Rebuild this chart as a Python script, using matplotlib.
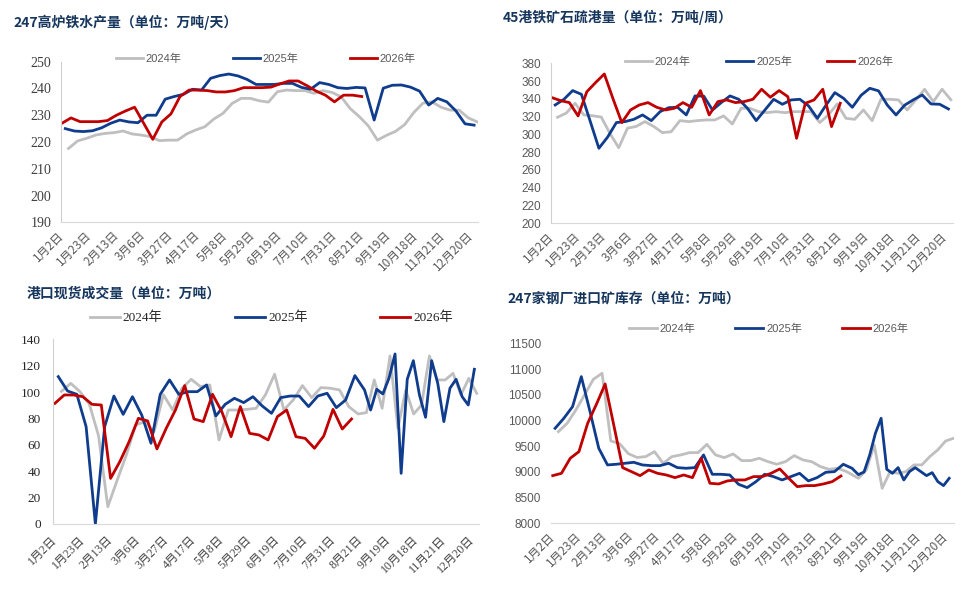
import numpy as np
import matplotlib
matplotlib.use("Agg")
import matplotlib.pyplot as plt
from matplotlib.ticker import FixedLocator, FixedFormatter

SANS = ["Liberation Sans", "Noto Sans CJK SC"]
SERIF = ["Liberation Serif", "Noto Sans CJK SC"]
CJK = ["Noto Sans CJK SC", "DejaVu Sans"]

GRAY, BLUE, RED = "#BFBFBF", "#0F3C8C", "#C00000"
TITLE_COLOR = "#17365D"

date_labels = ["1月2日", "1月23日", "2月13日", "3月6日", "3月27日", "4月17日",
               "5月8日", "5月29日", "6月19日", "7月10日", "7月31日", "8月21日",
               "9月19日", "10月18日", "11月21日", "12月20日"]
years = ["2024年", "2025年", "2026年"]

# 247高炉铁水产量 (万吨/天)
hm_2024 = [217.6, 220.4, 221.4, 222.6, 223.2, 223.5, 224.1, 223.0, 222.6, 222.0,
           220.5, 220.7, 220.7, 223.0, 224.5, 225.7, 228.6, 230.7, 234.4, 236.3,
           236.3, 235.4, 234.9, 238.8, 239.4, 239.2, 239.2, 238.2, 239.2, 238.5,
           236.9, 232.5, 229.5, 226.0, 220.7, 222.5, 224.0, 226.5, 231.0, 234.5,
           235.0, 233.0, 231.9, 231.9, 229.0, 227.5]
hm_2025 = [225.0, 224.1, 223.9, 224.2, 225.3, 227.0, 228.2, 227.5, 227.2, 230.0,
           230.0, 236.0, 237.0, 237.8, 239.7, 239.4, 243.8, 244.8, 245.4, 244.7,
           243.4, 241.5, 241.5, 241.5, 241.9, 241.9, 240.4, 239.7, 242.2, 241.5,
           240.3, 240.0, 240.4, 240.2, 228.2, 240.1, 241.2, 241.3, 240.5, 239.0,
           233.8, 236.3, 235.0, 231.6, 226.8, 226.3]
hm_2026 = [227.0, 229.0, 227.6, 227.6, 227.6, 228.0, 230.0, 231.6, 233.0, 227.0,
           221.0, 227.5, 230.5, 237.0, 239.4, 239.4, 239.2, 238.7, 238.7, 239.2,
           240.3, 240.3, 240.3, 240.5, 241.7, 242.8, 242.8, 241.0, 239.0, 237.5,
           235.0, 237.5, 237.5, 237.0]

# 45港铁矿石疏港量 (万吨/周)
port_2024 = [319.3, 324.0, 335.0, 322.0, 321.0, 319.5, 301.0, 285.0, 307.0, 309.0,
             314.4, 309.0, 302.0, 303.0, 315.5, 314.4, 315.5, 316.3, 316.3, 320.8,
             311.8, 329.4, 329.4, 325.6, 324.5, 325.6, 324.5, 325.6, 325.6, 325.6,
             313.3, 322.0, 334.3, 318.1, 317.0, 327.5, 315.5, 339.5, 339.5, 338.8,
             327.5, 338.8, 350.8, 336.9, 350.8, 339.0]
port_2025 = [333.1, 339.5, 349.3, 345.1, 315.0, 284.4, 297.0, 313.3, 314.4, 317.0,
             321.9, 315.5, 325.6, 330.1, 330.5, 321.9, 343.3, 343.0, 327.5, 335.8,
             343.3, 339.5, 329.4, 315.5, 327.5, 339.5, 333.9, 338.8, 339.5, 332.0,
             318.1, 333.1, 347.0, 340.6, 330.5, 344.0, 351.9, 349.0, 333.0, 321.9,
             333.0, 339.0, 344.4, 334.3, 333.9, 328.6]
port_2026 = [341.4, 338.0, 335.8, 320.8, 348.0, 358.3, 368.0, 340.0, 313.3, 327.5,
             333.1, 335.8, 330.5, 327.5, 329.4, 335.8, 330.5, 349.3, 321.9, 336.9,
             338.8, 335.8, 336.9, 339.5, 350.8, 341.8, 349.3, 342.5, 295.6, 335.0,
             338.8, 350.8, 308.8, 335.0]

# 港口现货成交量 (万吨); 2024/2025 are sampled more densely late in the year
trade_2024 = [100.5, 106.6, 100.3, 91.0, 67.0, 13.1, 33.0, 52.3, 75.0, 77.6,
              70.0, 98.0, 86.4, 102.9, 109.7, 104.1, 105.4, 63.7, 86.4, 86.4,
              86.9, 87.7, 97.8, 113.5, 86.4, 94.0, 104.9, 95.8, 103.4, 102.9,
              101.6, 89.0, 83.4,
              84.4, 109.2, 87.7, 127.4, 72.5, 101.6, 83.4, 90.2, 127.4, 109.2,
              109.2, 114.2, 97.8, 110.4, 99.1]
trade_2025 = [111.7, 100.8, 98.3, 73.8, 0.0, 73.8, 97.0, 83.1, 96.5, 82.6,
              61.2, 98.3, 109.2, 98.3, 100.3, 100.3, 105.4, 81.9, 90.7, 95.3,
              92.0, 96.5, 89.5, 83.9, 95.8, 97.0, 97.0, 89.0, 97.0, 99.1,
              88.2, 94.0, 112.5,
              101.6, 86.4, 102.1, 98.6, 110.4, 128.9, 38.4, 109.7, 123.8, 97.8,
              80.9, 123.8, 106.6, 77.6, 102.9, 109.7, 96.5, 90.2, 117.3]
trade_2026 = [91.5, 97.8, 97.8, 96.5, 90.7, 90.2, 34.6, 47.3, 62.4, 80.1,
              78.1, 56.9, 72.5, 86.4, 104.9, 79.6, 77.6, 98.3, 85.2, 66.2,
              89.0, 68.7, 67.5, 63.7, 81.4, 86.4, 66.2, 64.9, 57.4, 66.7,
              86.9, 72.0, 79.6]

# 247家钢厂进口矿库存 (万吨)
inv_2024 = [9783, 9945, 10204, 10500, 10800, 10917, 9600, 9550, 9355, 9280,
            9297, 9394, 9167, 9297, 9329, 9374, 9374, 9536, 9329, 9277,
            9348, 9219, 9219, 9264, 9199, 9148, 9199, 9316, 9232, 9199,
            9102, 9050, 9070, 9005,
            8875, 9037, 9524, 8681, 9005, 8972, 9005, 9135, 9135, 9297,
            9426, 9601, 9653]
inv_2025 = [9847, 10042, 10269, 10852, 10171, 9459, 9135, 9148, 9167, 9186,
            9135, 9121, 9121, 9167, 9083, 9070, 9083, 9329, 8953, 8953,
            8940, 8759, 8694, 8810, 8953, 8908, 8843, 8908, 8972, 8824,
            8888, 8992, 9005, 9148, 9070,
            8946, 8998, 9329, 9750, 10042, 9050, 8972, 9083, 8843, 9005,
            9083, 9005, 8927, 8985, 8810, 8733, 8875]
inv_2026 = [8927, 8972, 9264, 9394, 9945, 10314, 10709, 9900, 9083, 9005,
            8927, 9037, 8972, 8940, 8888, 8940, 8888, 9264, 8778, 8765,
            8824, 8843, 8843, 8908, 8908, 8972, 9057, 8880, 8713, 8733,
            8733, 8765, 8810, 8920]


def week_x(values, offset, n_regular=None, dense_span=None):
    # categories are 2026 weeks; other years sit a few days later
    if n_regular is None:
        return np.arange(len(values)) + offset
    return np.concatenate([np.arange(n_regular) + offset,
                           np.linspace(dense_span[0], dense_span[1], len(values) - n_regular)])


def draw_panel(fig, rect, title, title_xy, lines, ylim, yticks, xlim, style):
    ax = fig.add_axes(rect)
    handles = []
    for x, y, color in lines:
        h, = ax.plot(x, y, color=color, lw=2.0, solid_joinstyle="round")
        handles.append(h)
    ax.set_xlim(*xlim)
    ax.set_ylim(*ylim)
    ax.set_yticks(yticks)
    ax.xaxis.set_major_locator(FixedLocator(np.arange(0, 46, 3)))
    ax.xaxis.set_major_formatter(FixedFormatter(date_labels))

    for s in ["top", "right"]:
        ax.spines[s].set_visible(False)
    ax.spines["bottom"].set_color("#D9D9D9")
    ax.spines["left"].set_color("#D0D0D0")
    ax.spines["left"].set_visible(style["left_spine"])
    ax.tick_params(length=0)
    ax.tick_params(axis="y", pad=style["ypad"])
    ax.tick_params(axis="x", pad=style["xpad"])
    for lab in ax.get_yticklabels():
        lab.set_family(style["yfont"])
        lab.set_fontsize(style["ysize"])
        lab.set_color(style["tick_color"])
    for lab in ax.get_xticklabels():
        lab.set_family(style["xfont"])
        lab.set_fontsize(style["xsize"])
        lab.set_color(style["xcolor"])
        lab.set_rotation(45)
        lab.set_ha("right")
        lab.set_va("center")
        lab.set_rotation_mode("anchor")

    fig.text(title_xy[0] / 975, 1 - title_xy[1] / 594, title, family=CJK,
             fontsize=10, fontweight="heavy", color=TITLE_COLOR, va="center", ha="left")

    lx, ly = style["legend_xy"]
    leg = ax.legend(handles, years, ncol=3, frameon=False, loc="center left",
                    bbox_to_anchor=(lx / 975, 1 - ly / 594), bbox_transform=fig.transFigure,
                    borderpad=0, borderaxespad=0, handlelength=style["hl"],
                    handletextpad=0.25, columnspacing=style["cs"],
                    prop={"family": style["lfont"], "size": style["lsize"]})
    for t in leg.get_texts():
        t.set_color(style["legend_color"])
    return ax


fig = plt.figure(figsize=(9.75, 5.94), dpi=100)
fig.patch.set_facecolor("white")

style1 = dict(left_spine=True, ypad=7, xpad=8, yfont=SERIF, ysize=10, xfont=CJK, xsize=8.5,
              tick_color="#404040", xcolor="#595959", legend_xy=(116, 59), hl=2.43, cs=4.6,
              lfont=SANS, lsize=8, legend_color="#595959")
draw_panel(fig, [61 / 975, 1 - 222.3 / 594, 417 / 975, 160.6 / 594],
           "247高炉铁水产量（单位：万吨/天）", (13, 22.7),
           [(week_x(hm_2024, 0.73), hm_2024, GRAY),
            (week_x(hm_2025, 0.37), hm_2025, BLUE),
            (week_x(hm_2026, 0.0), hm_2026, RED)],
           (190, 250), np.arange(190, 251, 10), (-0.1, 45.8), style1)

style2 = dict(left_spine=True, ypad=7, xpad=8, yfont=SANS, ysize=8.5, xfont=CJK, xsize=8.5,
              tick_color="#595959", xcolor="#595959", legend_xy=(625, 62), hl=2.43, cs=3.2,
              lfont=SANS, lsize=8, legend_color="#595959")
draw_panel(fig, [551 / 975, 1 - 223.3 / 594, 402 / 975, 160 / 594],
           "45港铁矿石疏港量（单位：万吨/周）", (503, 17),
           [(week_x(port_2024, 0.65), port_2024, GRAY),
            (week_x(port_2025, 0.38), port_2025, BLUE),
            (week_x(port_2026, 0.0), port_2026, RED)],
           (200, 380), np.arange(200, 381, 20), (-0.1, 45.9), style2)

style3 = dict(left_spine=True, ypad=9, xpad=10, yfont=SERIF, ysize=9.5, xfont=SERIF, xsize=8.5,
              tick_color="#262626", xcolor="#404040", legend_xy=(90, 318), hl=2.24, cs=5.5,
              lfont=SERIF, lsize=9.5, legend_color="#262626")
draw_panel(fig, [53.3 / 975, 1 - 524 / 594, 425.7 / 975, 184.7 / 594],
           "港口现货成交量（单位：万吨）", (27, 294),
           [(week_x(trade_2024, 0.7, 33, (33.6, 45.5)), trade_2024, GRAY),
            (week_x(trade_2025, 0.36, 33, (33.4, 45.25)), trade_2025, BLUE),
            (week_x(trade_2026, 0.0), trade_2026, RED)],
           (0, 140), np.arange(0, 141, 20), (-0.18, 45.75), style3)

style4 = dict(left_spine=False, ypad=7, xpad=8, yfont=SANS, ysize=8.5, xfont=CJK, xsize=8.5,
              tick_color="#595959", xcolor="#595959", legend_xy=(629, 329), hl=2.5, cs=3.6,
              lfont=SANS, lsize=8, legend_color="#595959")
draw_panel(fig, [551 / 975, 1 - 523.3 / 594, 403 / 975, 180 / 594],
           "247家钢厂进口矿库存（单位：万吨）", (507, 299),
           [(week_x(inv_2024, 0.65, 34, (35.0, 45.9)), inv_2024, GRAY),
            (week_x(inv_2025, 0.27, 35, (35.0, 45.4)), inv_2025, BLUE),
            (week_x(inv_2026, 0.0), inv_2026, RED)],
           (8000, 11500), np.arange(8000, 11501, 500), (-0.2, 45.95), style4)

fig.savefig("out.png", dpi=100)
